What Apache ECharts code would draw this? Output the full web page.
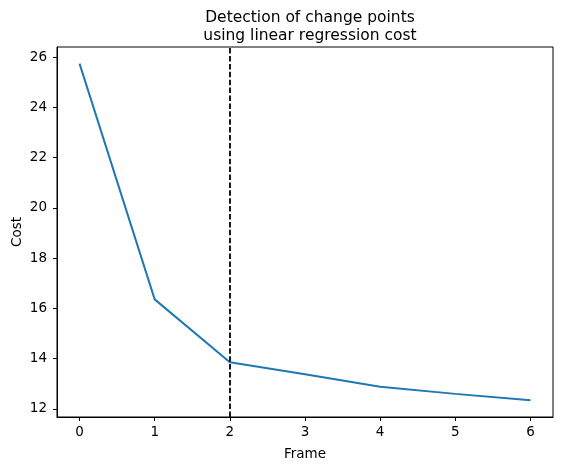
<!DOCTYPE html>
<html>
<head>
<meta charset="utf-8">
<script src="https://cdn.jsdelivr.net/npm/echarts@6/dist/echarts.min.js"></script>
<style>
  html, body { margin: 0; padding: 0; background: #fff; }
  #chart { width: 563px; height: 470px; }
</style>
</head>
<body>
<div id="chart"></div>
<script>
// values
const frames = [0, 1, 2, 3, 4, 5, 6];
const cost = [25.74, 16.36, 13.86, 13.38, 12.88, 12.6, 12.35];
const changePoint = 2;
const xTicks = [0, 1, 2, 3, 4, 5, 6];
const yTicks = [12, 14, 16, 18, 20, 22, 24, 26];

const font = "DejaVu Sans";
const myChart = echarts.init(document.getElementById("chart"));

const option = {
  animation: false,
  title: {
    text: "Detection of change points\nusing linear regression cost",
    left: 305,
    top: 4,
    textAlign: "center",
    textStyle: {
      fontFamily: font,
      fontSize: 15.5,
      fontWeight: "normal",
      color: "#000",
      lineHeight: 18,
    },
  },
  grid: {
    left: 57,
    right: 10,
    top: 47,
    bottom: 53,
    outerBoundsMode: "none",
    show: true,
    borderColor: "#000",
    borderWidth: 1,
  },
  xAxis: {
    type: "value",
    min: -0.3,
    max: 6.3,
    name: "Frame",
    nameLocation: "middle",
    nameGap: 30,
    nameMoveOverlap: false,
    nameTextStyle: { fontFamily: font, fontSize: 13.5, color: "#000" },
    axisLine: { show: true, onZero: false, lineStyle: { color: "#000", width: 1 } },
    axisTick: {
      show: true,
      inside: false,
      length: 4,
      customValues: xTicks,
      lineStyle: { color: "#000" },
    },
    axisLabel: {
      customValues: xTicks,
      margin: 8,
      fontFamily: font,
      fontSize: 13.5,
      color: "#000",
    },
    splitLine: { show: false },
  },
  yAxis: {
    type: "value",
    min: 11.68,
    max: 26.4,
    name: "Cost",
    nameLocation: "middle",
    nameGap: 33,
    nameMoveOverlap: false,
    nameTextStyle: { fontFamily: font, fontSize: 13.5, color: "#000" },
    axisLine: { show: true, onZero: false, lineStyle: { color: "#000", width: 1 } },
    axisTick: {
      show: true,
      inside: false,
      length: 4,
      customValues: yTicks,
      lineStyle: { color: "#000" },
    },
    axisLabel: {
      customValues: yTicks,
      margin: 10,
      fontFamily: font,
      fontSize: 13.5,
      color: "#000",
    },
    splitLine: { show: false },
  },
  series: [
    {
      type: "line",
      data: frames.map((f, i) => [f, cost[i]]),
      showSymbol: false,
      symbol: "none",
      lineStyle: { color: "#1f77b4", width: 2 },
      markLine: {
        silent: true,
        symbol: ["none", "none"],
        label: { show: false },
        lineStyle: { color: "#000", type: [5.5, 2.4], width: 1.8 },
        data: [{ xAxis: changePoint }],
      },
    },
  ],
};

myChart.setOption(option);
</script>
</body>
</html>
